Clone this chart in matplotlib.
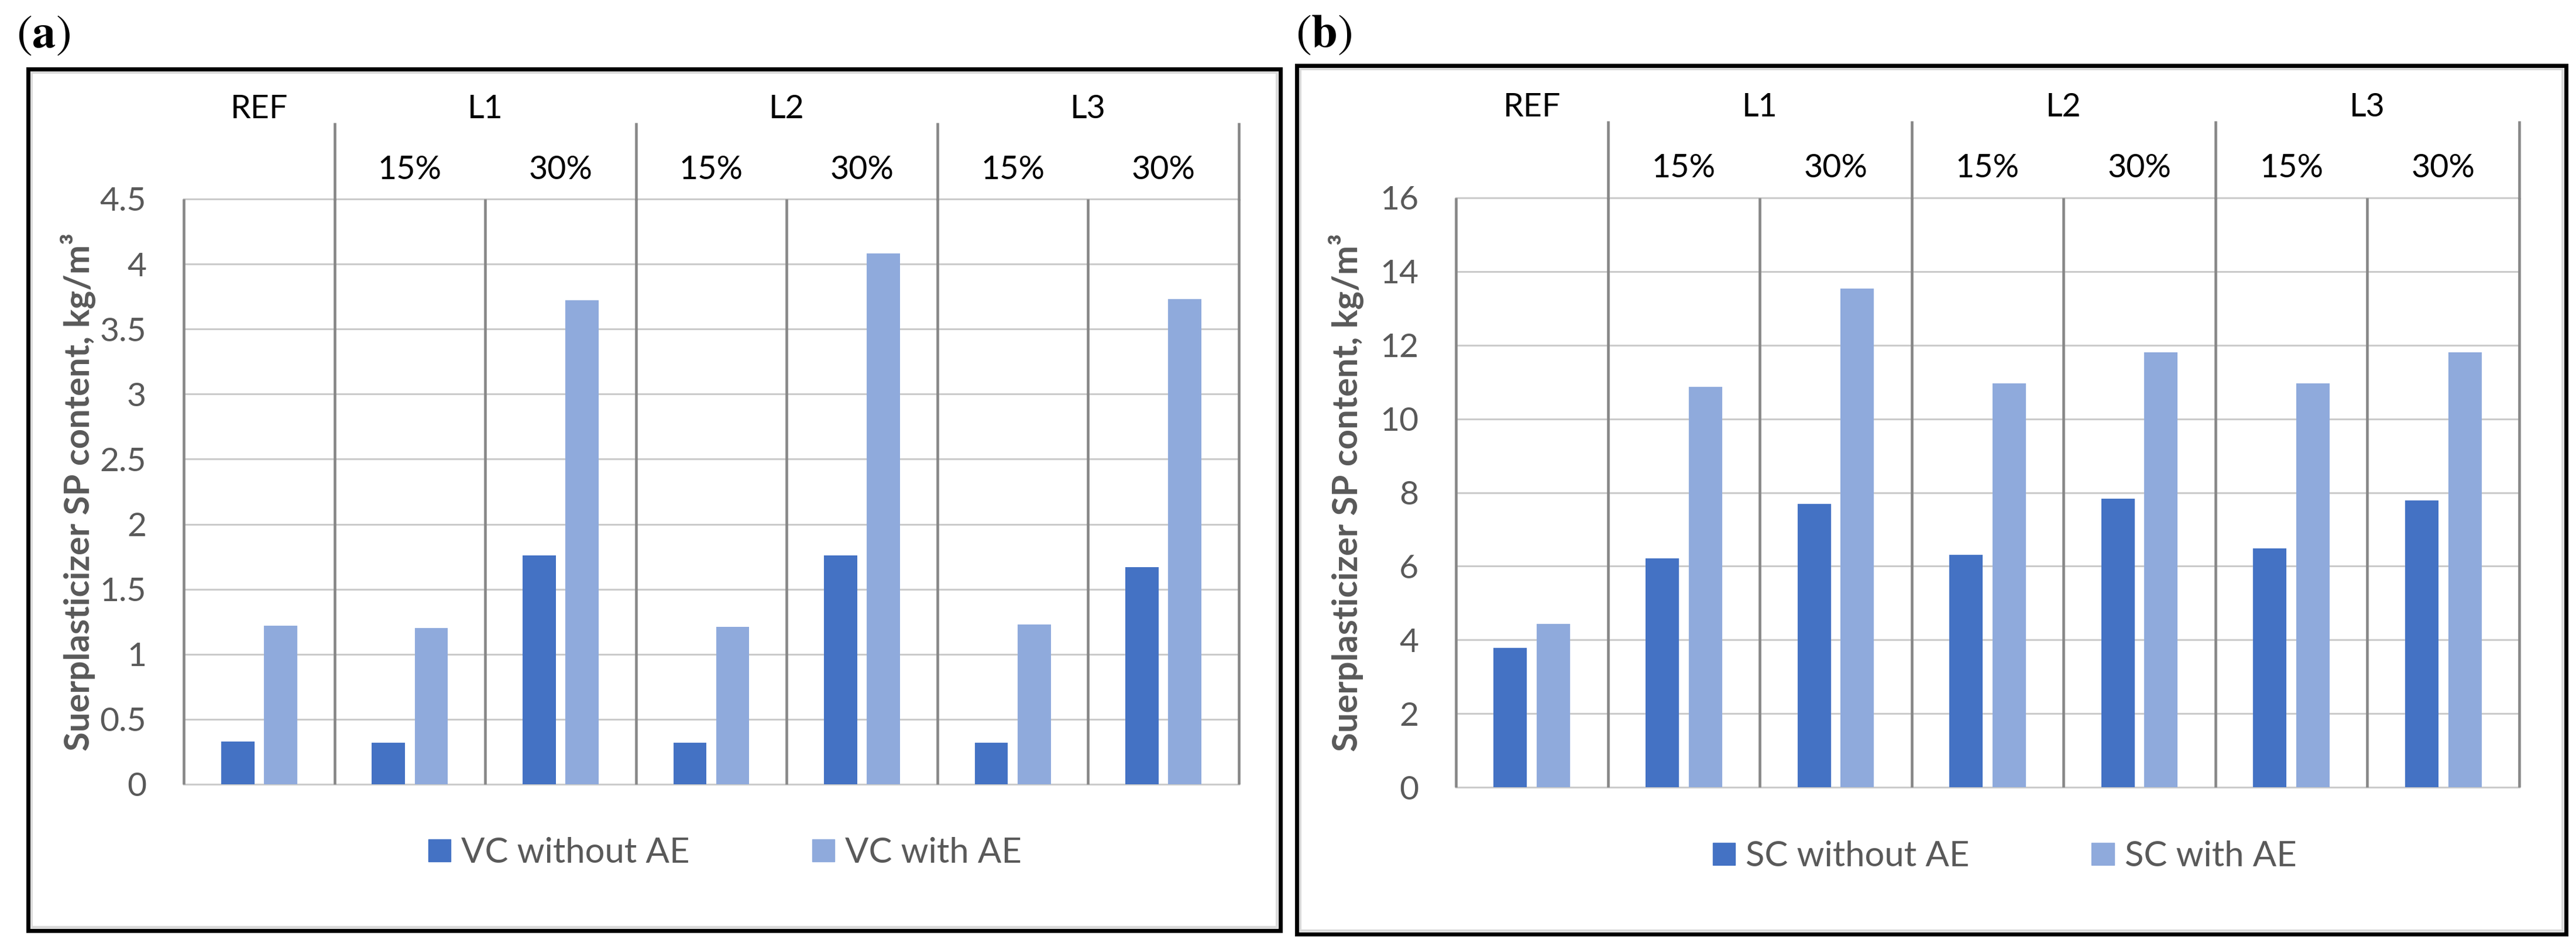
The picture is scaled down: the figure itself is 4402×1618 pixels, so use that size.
#!/usr/bin/env python3
"""
Superplasticizer SP content of VC and SC mixes, two panels (a) and (b)
"""

import matplotlib
matplotlib.use('Agg')
import matplotlib.pyplot as plt
import matplotlib.patches as patches
import matplotlib.transforms as mtransforms

plt.rcParams['font.family'] = ['Lato', 'DejaVu Sans']
plt.rcParams['mathtext.fontset'] = 'stix'

# Data
slots = ['REF', 'L1 15%', 'L1 30%', 'L2 15%', 'L2 30%', 'L3 15%', 'L3 30%']
groups = ['REF', 'L1', 'L2', 'L3']
sub_labels = ['15%', '30%', '15%', '30%', '15%', '30%']

vc_without_ae = [0.33, 0.32, 1.76, 0.32, 1.76, 0.32, 1.67]
vc_with_ae = [1.22, 1.20, 3.72, 1.21, 4.08, 1.23, 3.73]

sc_without_ae = [3.78, 6.22, 7.69, 6.30, 7.83, 6.48, 7.78]
sc_with_ae = [4.43, 10.87, 13.53, 10.96, 11.81, 10.96, 11.81]

vc_ticks = [0, 0.5, 1, 1.5, 2, 2.5, 3, 3.5, 4, 4.5]
vc_tick_labels = ['0', '0.5', '1', '1.5', '2', '2.5', '3', '3.5', '4', '4.5']
sc_ticks = [0, 2, 4, 6, 8, 10, 12, 14, 16]
sc_tick_labels = ['0', '2', '4', '6', '8', '10', '12', '14', '16']

ylabel = 'Suerplasticizer SP content, kg/m³'

# Colours
dark_blue = '#4472C4'
light_blue = '#8FAADC'
grid_color = '#CBCBCB'
div_color = '#878787'
text_gray = '#595959'

W, H = 4402, 1618
fig = plt.figure(figsize=(W / 100, H / 100), dpi=100)


def px_box(x0, y0, x1, y1):
    """pixel box (top-left origin) -> figure fraction [l, b, w, h]"""
    return [x0 / W, 1 - y1 / H, (x1 - x0) / W, (y1 - y0) / H]


def draw_frame(x0, y0, x1, y1):
    l, b, w, h = px_box(x0, y0, x1, y1)
    fig.patches.append(patches.Rectangle((l, b), w, h, transform=fig.transFigure,
                                         fill=False, edgecolor='black', linewidth=5))
    dx, dy = 6 / W, 6 / H
    fig.patches.append(patches.Rectangle((l + dx, b + dy), w - 2 * dx, h - 2 * dy,
                                         transform=fig.transFigure, fill=False,
                                         edgecolor='#D9D9D9', linewidth=2.8))


def draw_panel(ax, without, with_ae, ticks, tick_labels, names, legend_x, pad_x):
    n = len(slots)
    top = ticks[-1]
    ax.set_xlim(0, n)
    ax.set_ylim(0, top)
    for s in ax.spines.values():
        s.set_visible(False)
    ax.set_xticks([])
    ax.set_yticks(ticks)
    ax.set_yticklabels(tick_labels, fontsize=41, color=text_gray)
    ax.tick_params(axis='y', length=0, pad=46)

    # horizontal gridlines
    for t in ticks:
        ax.axhline(t, color=grid_color, linewidth=2.2, zorder=0, clip_on=False)

    # bars
    centers = [i + 0.5 for i in range(n)]
    off, bw = 0.142, 0.22
    ax.bar([c - off for c in centers], without, width=bw, color=dark_blue, zorder=2)
    ax.bar([c + off for c in centers], with_ae, width=bw, color=light_blue, zorder=2)

    # slot dividers inside plot
    ax.vlines(range(n + 1), 0, top, colors=div_color, linewidth=3.3, zorder=1,
              clip_on=False)
    # group dividers extending into the header
    trans = mtransforms.blended_transform_factory(ax.transData, ax.transAxes)
    for x in [1, 3, 5, 7]:
        ax.plot([x, x], [1.0, 1.128], color=div_color, linewidth=3.3,
                transform=trans, clip_on=False)

    # category headers
    ax.text(0.5, 1.153, groups[0], transform=trans, ha='center', va='center',
            fontsize=40, color='black')
    for k, g in enumerate(groups[1:]):
        ax.text(2 + 2 * k, 1.153, g, transform=trans, ha='center', va='center',
                fontsize=40, color='black')
    for k, s in enumerate(sub_labels):
        ax.text(1.5 + k, 1.05, s, transform=trans, ha='center', va='center',
                fontsize=40, color='black')

    ax.text(pad_x, 0.5, ylabel, transform=ax.transAxes, rotation=90,
            ha='center', va='center', fontsize=43, fontweight='bold', color=text_gray)

    handles = [patches.Patch(color=dark_blue, label=names[0]),
               patches.Patch(color=light_blue, label=names[1])]
    ax.legend(handles=handles, loc='center', bbox_to_anchor=(legend_x, -0.117),
              ncol=2, frameon=False, fontsize=43, labelcolor=text_gray,
              handlelength=0.64, handleheight=0.6, handletextpad=0.3,
              columnspacing=3.5)


# Panel (a)
draw_frame(48, 118, 2188, 1590)
ax_a = fig.add_axes(px_box(314, 340, 2117, 1340))
draw_panel(ax_a, vc_without_ae, vc_with_ae, vc_ticks, vc_tick_labels,
           ['VC without AE', 'VC with AE'], 0.513, -0.100)
fig.text(28 / W, 1 - 60 / H, r'$(\mathbf{a})$', fontsize=58, ha='left', va='center')

# Panel (b)
draw_frame(2216, 112, 4385, 1596)
ax_b = fig.add_axes(px_box(2488, 338, 4305, 1345))
draw_panel(ax_b, sc_without_ae, sc_with_ae, sc_ticks, sc_tick_labels,
           ['SC without AE', 'SC with AE'], 0.516, -0.103)
fig.text(2214 / W, 1 - 59 / H, r'$(\mathbf{b})$', fontsize=58, ha='left', va='center')

fig.savefig('out.png', dpi=100, facecolor='white')
plt.close(fig)
